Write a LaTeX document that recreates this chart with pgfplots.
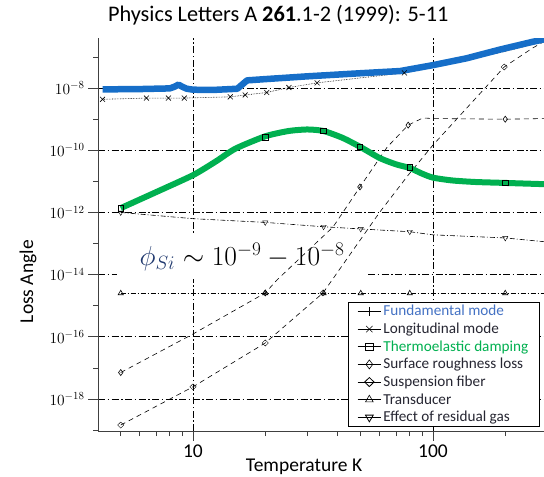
\RequirePackage{fix-cm}
\documentclass[border=0pt]{standalone}
\usepackage{pgfplots}
\pgfplotsset{compat=1.18}
\usepackage{fontspec}
\setmainfont{Carlito}
\definecolor{fundblue}{RGB}{22,110,200}
\definecolor{tegreen}{RGB}{0,176,80}
\definecolor{legblue}{RGB}{68,114,196}
\definecolor{phiblue}{RGB}{31,56,110}
\definecolor{legtext}{RGB}{38,38,50}
\newcommand{\lf}{\fontsize{15.2}{18}\selectfont}
\begin{document}
\begin{tikzpicture}
\begin{axis}[
  scale only axis, width=446pt, height=393pt,
  xmode=log, ymode=log,
  xmin=4.02, xmax=290, ymin=9.3e-20, ymax=4.1e-7,
  axis x line*=bottom, axis y line*=left,
  axis line style={-, line width=0.8pt, black!75},
  xtick={10,100}, xticklabels={10,100},
  minor xtick={5,6,7,8,9,20,30,40,50,60,70,80,90,200},
  ytick={1e-18,1e-16,1e-14,1e-12,1e-10,1e-8},
  minor ytick={1e-19,1e-17,1e-15,1e-13,1e-11,1e-9,1e-7},
  tick align=outside, major tick length=10pt, minor tick length=5pt,
  tick style={black!75, line width=0.6pt},
  xmajorgrids, ymajorgrids,
  major grid style={black, line width=0.7pt, dash pattern=on 7pt off 2.5pt on 1.5pt off 2.5pt},
  yticklabel style={font=\fontsize{15.5}{18}\selectfont},
  xticklabel style={font=\fontsize{19.5}{22}\selectfont},
  label style={font=\fontsize{19.5}{22}\selectfont},
  xlabel={Temperature K}, ylabel={Loss Angle},
  xlabel style={at={(axis description cs:0.462,-0.102)}, anchor=base},
  ylabel style={at={(axis description cs:-0.157,0.38)}, anchor=center},
  title={Physics Letters A \textbf{261}.1-2 (1999): 5-11},
  title style={at={(axis description cs:0.404,1)}, anchor=base, yshift=11pt, font=\fontsize{22.3}{26}\selectfont},
  legend cell align=left,
  legend style={at={(rel axis cs:0.5605,0.328)}, anchor=north west, draw=black, line width=0.6pt,
    fill=white, inner xsep=9pt, inner ysep=1pt, row sep=1.6pt, font=\lf,
    nodes={text=legtext}},
  legend image code/.code={\draw[mark repeat=2,mark phase=2,#1] plot coordinates {(0cm,0cm) (0.41cm,0cm) (0.82cm,0cm)};},
  every axis plot/.append style={mark options={solid, fill=white, line width=0.6pt}},
]
\coordinate (bl) at (rel axis cs:0,0);
\coordinate (tr) at (rel axis cs:1,1);
\node[fill=white, minimum width=250pt, minimum height=44pt, inner sep=0pt] at (rel axis cs:0.323,0.443)
  {\fontsize{27.5}{32}\selectfont $\textcolor{phiblue}{\phi_{Si}} \sim 10^{-9} - 10^{-8}$};

% Transducer
\addplot[black, line width=0.6pt, dash pattern=on 5pt off 2pt on 1pt off 2pt, forget plot] coordinates {
(5,2.512e-15) (20,2.512e-15) (35,2.512e-15) (50,2.512e-15) (80,2.512e-15) (200,2.512e-15) (290,2.512e-15)};
\addplot[black, only marks, mark=triangle, mark size=3pt, forget plot] coordinates {
(5,2.512e-15) (20,2.512e-15) (35,2.512e-15) (50,2.512e-15) (80,2.512e-15) (200,2.512e-15)};

% Residual gas
\addplot[black, line width=0.6pt, dash pattern=on 5pt off 2pt on 1pt off 2pt, forget plot] coordinates {
(5,1e-12) (10,6.31e-13) (20,4.786e-13) (35,3.467e-13) (50,2.951e-13) (80,2.399e-13) (100,1.905e-13) (200,1.514e-13) (290,1.148e-13)};
\addplot[black, only marks, mark=triangle, mark size=3pt, mark options={rotate=180}, forget plot] coordinates {
(5,1e-12) (20,4.786e-13) (35,3.467e-13) (50,2.951e-13) (80,2.399e-13) (200,1.514e-13)};

% Surface roughness
\addplot[black, line width=0.6pt, dash pattern=on 5pt off 4pt, forget plot] coordinates {
(5,7.079e-18) (10,1.23e-16) (20,2.57e-15) (22.4,6.761e-15) (30,5.754e-14) (38.3,3.388e-13) (42.2,1.023e-12) (49.6,6.607e-12) (64.4,1.259e-10) (78.8,6.457e-10) (90.8,1.1e-9) (100,1.05e-9) (200,1.0e-9) (290,1.05e-9)};
\addplot[black, only marks, mark=diamond, mark size=3pt, forget plot] coordinates {
(5,7.079e-18) (20,2.57e-15) (49.6,6.607e-12) (78.8,6.457e-10) (200,1.0e-9)};

% Suspension fiber
\addplot[black, line width=0.6pt, dash pattern=on 5pt off 4pt, forget plot] coordinates {
(5,1.445e-19) (10,2.455e-18) (20,6.31e-17) (34.8,2.57e-15) (60,1.023e-12) (78.8,1.585e-11) (100,1.479e-10) (198,4.786e-8) (260,1.95e-7) (290,3.162e-7)};
\addplot[black, only marks, mark=diamond, mark size=3pt, mark options={xscale=1.4}, forget plot] coordinates {
(5,1.445e-19) (10,2.455e-18) (20,6.31e-17) (34.8,2.57e-15) (198,4.786e-8)};

% Longitudinal mode
\addplot[black, line width=0.6pt, densely dotted, forget plot] coordinates {
(4.2,4.365e-9) (6.4,4.786e-9) (7.9,4.786e-9) (9.2,4.786e-9) (14.3,5.248e-9) (16.5,6.026e-9) (20.3,7.244e-9) (25.1,1.047e-8) (32.9,1.479e-8) (50,2.138e-8) (76,3.09e-8) (100,4.786e-8) (200,1.514e-7) (290,3.162e-7)};
\addplot[black, only marks, mark=x, mark size=3.5pt, forget plot] coordinates {
(4.2,4.365e-9) (6.4,4.786e-9) (7.9,4.786e-9) (9.2,4.786e-9) (14.3,5.248e-9) (16.5,6.026e-9) (20.3,7.244e-9) (25.1,1.047e-8) (32.9,1.479e-8) (76,3.09e-8)};

% Thermoelastic damping
\addplot[tegreen, line width=6pt, smooth, tension=0.4, forget plot] coordinates {
(5,1.38e-12) (7,4.467e-12) (10,1.585e-11) (12.5,4.467e-11) (15,1.122e-10) (20,2.818e-10) (25,4.169e-10) (30,4.677e-10) (35,4.169e-10) (42,2.512e-10) (50,1.259e-10) (60,5.623e-11) (70,3.548e-11) (80,2.692e-11) (90,1.778e-11) (100,1.318e-11) (120,1.072e-11) (150,9.55e-12) (200,8.913e-12) (290,8.128e-12)};
\addplot[black, only marks, mark=square, mark size=2.8pt, forget plot] coordinates {
(5,1.38e-12) (20,2.63e-10) (35,4.266e-10) (49.6,1.288e-10) (80,2.884e-11) (200,9.12e-12)};

% Fundamental mode
\addplot[fundblue, line width=6.5pt, line join=round, forget plot] coordinates {
(4.2,9.12e-9) (6,9.33e-9) (8.0,9.8e-9) (8.4,1.12e-8) (8.7,1.3e-8) (9.0,1.12e-8) (9.4,9.6e-9) (10,8.91e-9) (12,8.71e-9) (15.3,9.55e-9) (16.8,1.778e-8) (20,1.95e-8) (30,2.399e-8) (50,3.02e-8) (73,3.548e-8) (100,5.495e-8) (138,9.12e-8) (190,1.738e-7) (260,3.09e-7) (290,3.715e-7)};

\addlegendimage{black, line width=0.8pt, mark=+, mark size=4.5pt}
\addlegendentry{\textcolor{legblue}{Fundamental mode}}
\addlegendimage{black, line width=0.8pt, mark=x, mark size=4.5pt}
\addlegendentry{Longitudinal mode}
\addlegendimage{black, line width=0.8pt, mark=square, mark size=3.8pt}
\addlegendentry{\textcolor{tegreen}{Thermoelastic damping}}
\addlegendimage{black, line width=0.8pt, mark=diamond, mark size=4.5pt}
\addlegendentry{Surface roughness loss}
\addlegendimage{black, line width=0.8pt, mark=diamond, mark size=4.5pt, mark options={xscale=1.4}}
\addlegendentry{Suspension fiber}
\addlegendimage{black, line width=0.8pt, mark=triangle, mark size=4.5pt}
\addlegendentry{Transducer}
\addlegendimage{black, line width=0.8pt, mark=triangle, mark size=4.5pt, mark options={rotate=180}}
\addlegendentry{Effect of residual gas}
\end{axis}
\pgfresetboundingbox
\path[use as bounding box] ([xshift=-98pt,yshift=-46pt]bl) rectangle ([yshift=38pt]tr);
\end{tikzpicture}
\end{document}
